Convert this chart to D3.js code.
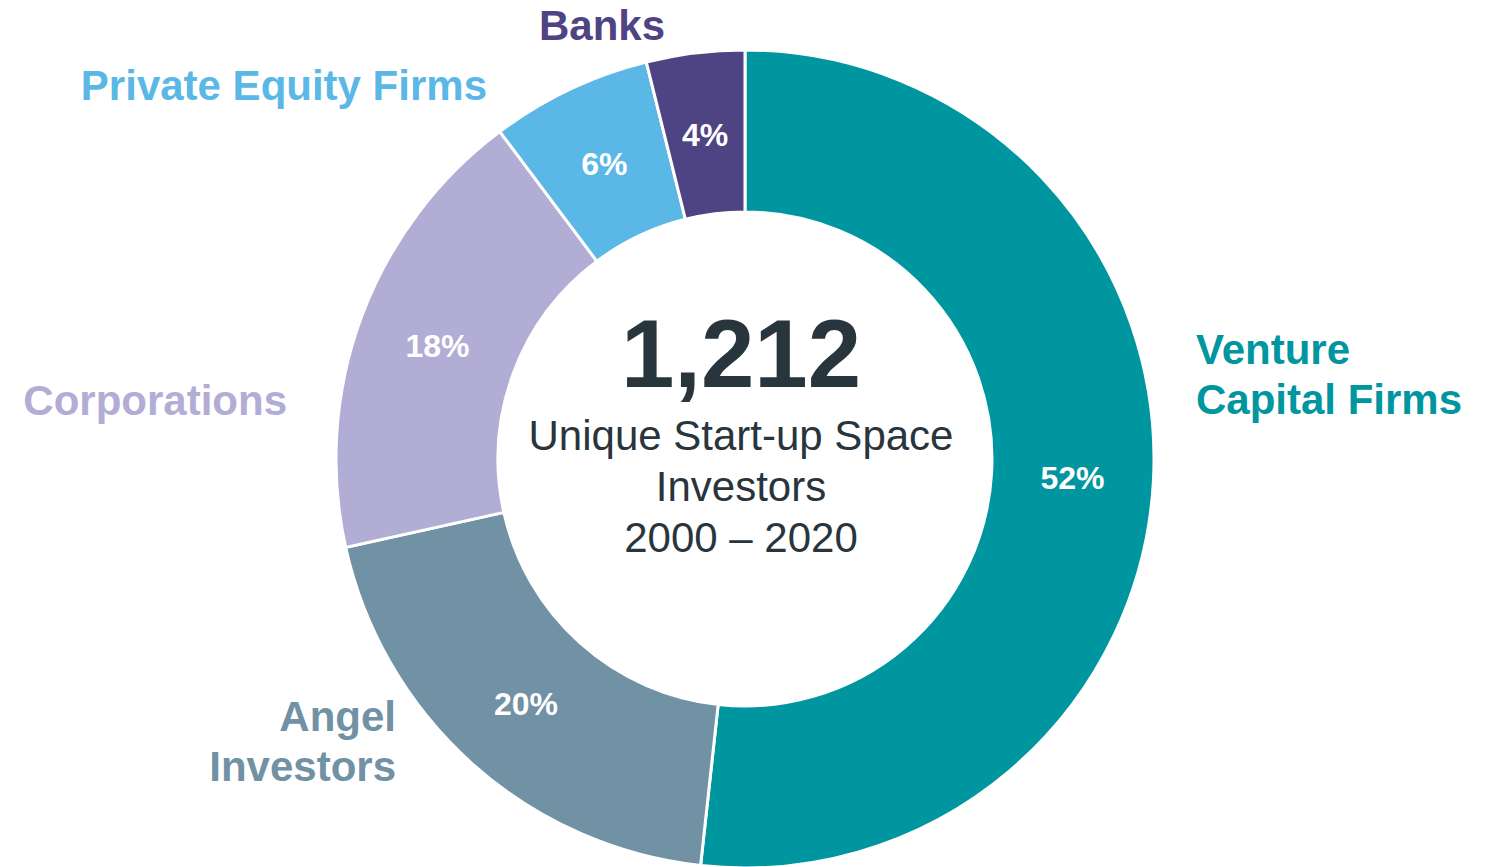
<!DOCTYPE html>
<html>
<head>
<meta charset="utf-8">
<script src="https://cdn.jsdelivr.net/npm/d3@7"></script>
<style>
  html, body { margin: 0; padding: 0; background: #fff; }
  svg { display: block; font-family: Arial, "Liberation Sans", sans-serif; }
</style>
</head>
<body>
<div id="chart"></div>
<script>
const width = 1488;
const height = 867;

// investor counts per category (total 1,212)
const categories = ["Venture Capital Firms", "Angel Investors", "Corporations", "Private Equity Firms", "Banks"];
const counts = [627, 240, 221, 77, 47];
const colors = ["#0096A0", "#7191A4", "#B2ADD5", "#5BB7E6", "#4E4483"];

const total = "1,212";
const subtitle = ["Unique Start-up Space", "Investors", "2000 \u2013 2020"];

// outer label placement (lines, x, first baseline, anchor)
const labelLayout = [
  {lines: ["Venture", "Capital Firms"], x: 1196, y: 364, anchor: "start"},
  {lines: ["Angel", "Investors"], x: 396, y: 731, anchor: "end"},
  {lines: ["Corporations"], x: 287, y: 415, anchor: "end"},
  {lines: ["Private Equity Firms"], x: 487, y: 100, anchor: "end"},
  {lines: ["Banks"], x: 665, y: 40, anchor: "end"}
];

const cx = 745, cy = 459;
const outerR = 409, innerR = 247;

const data = categories.map((c, i) => ({name: c, value: counts[i], color: colors[i], layout: labelLayout[i]}));
const sum = d3.sum(counts);
const pct = d => d3.format(".0f")(d.data.value / sum * 100) + "%";

const pie = d3.pie().sort(null).value(d => d.value);
const arc = d3.arc().innerRadius(innerR).outerRadius(outerR);
const labelArc = d3.arc().innerRadius((innerR + outerR) / 2).outerRadius((innerR + outerR) / 2);

const svg = d3.select("#chart")
  .append("svg")
  .attr("width", width)
  .attr("height", height)
  .attr("viewBox", [0, 0, width, height]);

const g = svg.append("g").attr("transform", `translate(${cx},${cy})`);

const arcs = pie(data);

g.selectAll("path")
  .data(arcs)
  .join("path")
  .attr("fill", d => d.data.color)
  .attr("stroke", "#fff")
  .attr("stroke-width", 3)
  .attr("d", arc);

g.selectAll("text.pct")
  .data(arcs)
  .join("text")
  .attr("class", "pct")
  .attr("transform", d => `translate(${labelArc.centroid(d)})`)
  .attr("text-anchor", "middle")
  .attr("dy", "0.38em")
  .attr("fill", "#fff")
  .attr("font-weight", "bold")
  .attr("font-size", 32)
  .text(pct);

// outer category labels
svg.append("g")
  .selectAll("text")
  .data(data)
  .join("text")
  .attr("text-anchor", d => d.layout.anchor)
  .attr("fill", d => d.color)
  .attr("font-weight", "bold")
  .attr("font-size", 42)
  .each(function(d) {
    d3.select(this).selectAll("tspan")
      .data(d.layout.lines)
      .join("tspan")
      .attr("x", d.layout.x)
      .attr("y", (l, i) => d.layout.y + i * 50)
      .text(l => l);
  });

// center text
const center = svg.append("g").attr("fill", "#29353C").attr("text-anchor", "middle");

center.append("text")
  .attr("x", cx - 4)
  .attr("y", 387)
  .attr("font-weight", "bold")
  .attr("font-size", 96)
  .text(total);

center.selectAll("text.sub")
  .data(subtitle)
  .join("text")
  .attr("class", "sub")
  .attr("x", cx - 4)
  .attr("y", (d, i) => 450 + i * 51)
  .attr("font-size", 42)
  .text(d => d);
</script>
</body>
</html>
